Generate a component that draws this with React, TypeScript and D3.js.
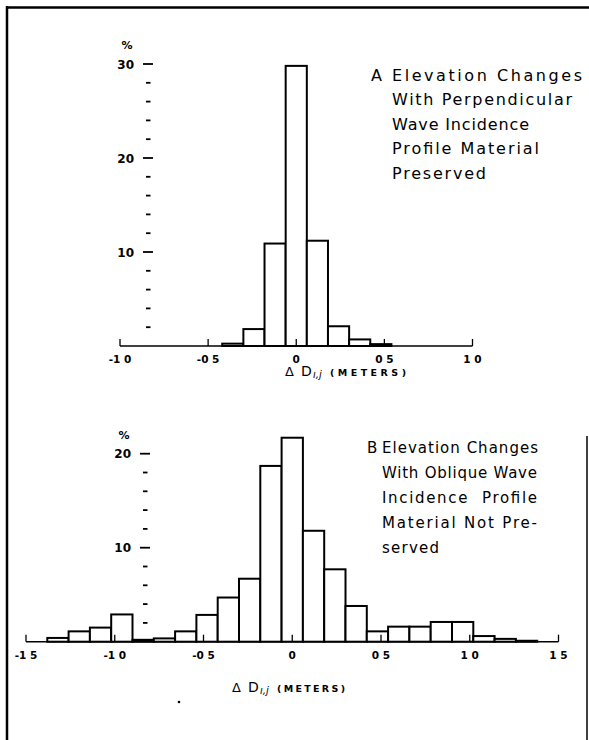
import React from 'react';
import * as d3 from 'd3';

// histogram bins (meters), bin width ~0.12 m
const binWidth = 0.12;
const centersA = [-0.36, -0.24, -0.12, 0, 0.12, 0.24, 0.36, 0.48];
const percentA = [0.25, 1.8, 10.9, 29.8, 11.2, 2.1, 0.7, 0.2];

const centersB = [-1.32, -1.2, -1.08, -0.96, -0.84, -0.72, -0.6, -0.48, -0.36, -0.24, -0.12, 0,
  0.12, 0.24, 0.36, 0.48, 0.6, 0.72, 0.84, 0.96, 1.08, 1.2, 1.32];
const percentB = [0.4, 1.1, 1.5, 2.9, 0.2, 0.35, 1.1, 2.85, 4.7, 6.7, 18.7, 21.7,
  11.8, 7.7, 3.8, 1.1, 1.6, 1.6, 2.1, 2.1, 0.6, 0.3, 0.1];

const xTicksA = [-1, -0.5, 0, 0.5, 1];
const xLabelsA = ['-1 0', '-0 5', '0', '0 5', '1 0'];
const xTicksB = [-1.5, -1, -0.5, 0, 0.5, 1, 1.5];
const xLabelsB = ['-1 5', '-1 0', '-0 5', '0', '0 5', '1 0', '1 5'];

const yMajorA = [10, 20, 30];
const yMinorA = [2, 4, 6, 8, 12, 14, 16, 18, 22, 24, 26, 28];
const yMajorB = [10, 20];
const yMinorB = [2, 4, 6, 8, 12, 14, 16, 18];

const captionA = ['Elevation Changes', 'With Perpendicular', 'Wave Incidence', 'Profile Material', 'Preserved'];
const captionB = ['Elevation Changes', 'With Oblique Wave', 'Incidence  Profile', 'Material Not Pre-', 'served'];

const FONT = '"DejaVu Sans", "Liberation Sans", sans-serif';

type PanelProps = {
  centers: number[];
  values: number[];
  xTicks: number[];
  xLabels: string[];
  yMajor: number[];
  yMinor: number[];
  xDomain: [number, number];
  xRange: [number, number];
  yDomain: [number, number];
  yRange: [number, number];
  axisX: number; // x of the y-axis dashes
  letter: string;
  caption: string[];
  capX: number;
  letterX: number;
  capY: number;
  capStep: number;
  capSize: number;
  capLengths: number[];
  titleX: number;
  titleY: number;
  metersLen: number;
};

function Panel(p: PanelProps) {
  const x = d3.scaleLinear().domain(p.xDomain).range(p.xRange);
  const y = d3.scaleLinear().domain(p.yDomain).range(p.yRange);
  const y0 = y(0);

  return (
    <g>
      {/* y axis: dashes only */}
      {p.yMinor.map(v => (
        <line key={'mi' + v} x1={p.axisX - 2} x2={p.axisX + 2.5} y1={y(v)} y2={y(v)} stroke="#000" strokeWidth={1.8} />
      ))}
      {p.yMajor.map(v => (
        <g key={'ma' + v}>
          <line x1={p.axisX - 5} x2={p.axisX + 5} y1={y(v)} y2={y(v)} stroke="#000" strokeWidth={1.8} />
          <text x={p.axisX - 14} y={y(v) + 4.5} textAnchor="end" fontFamily={FONT} fontWeight="bold" fontSize={12}>{v}</text>
        </g>
      ))}
      <text x={p.axisX - 21} y={y(p.yMajor[p.yMajor.length - 1]) - 15} textAnchor="middle" fontFamily={FONT} fontWeight="bold" fontSize={11}>%</text>

      {/* bars */}
      {p.centers.map((c, i) => (
        <rect key={'b' + i}
          x={x(c - binWidth / 2)}
          y={y(p.values[i])}
          width={x(c + binWidth / 2) - x(c - binWidth / 2)}
          height={y0 - y(p.values[i])}
          fill="#fff" stroke="#000" strokeWidth={2} />
      ))}

      {/* x axis */}
      <line x1={p.xRange[0]} x2={p.xRange[1]} y1={y0} y2={y0} stroke="#000" strokeWidth={1.6} />
      {p.xTicks.map((t, i) => (
        <g key={'xt' + i}>
          <line x1={x(t)} x2={x(t)} y1={y0} y2={y0 - 7} stroke="#000" strokeWidth={1.3} />
          <text x={x(t)} y={y0 + 17} textAnchor="middle" fontFamily={FONT} fontWeight="bold" fontSize={10.5}
            style={{ whiteSpace: 'pre' }}>{p.xLabels[i]}</text>
        </g>
      ))}

      {/* axis title */}
      <text x={p.titleX} y={p.titleY} fontFamily={FONT} fontSize={13}>Δ</text>
      <text x={p.titleX + 16} y={p.titleY} fontFamily={FONT} fontSize={14}>D</text>
      <text x={p.titleX + 28} y={p.titleY + 2} fontFamily={FONT} fontSize={10} fontStyle="italic">ı,j</text>
      <text x={p.titleX + 45} y={p.titleY} fontFamily={FONT} fontWeight="bold" fontSize={9.5}
        textLength={p.metersLen} lengthAdjust="spacing">(METERS)</text>

      {/* caption */}
      <text x={p.letterX} y={p.capY} fontFamily={FONT} fontSize={p.capSize}>{p.letter}</text>
      {p.caption.map((line, i) => (
        <text key={'c' + i} x={p.capX} y={p.capY + i * p.capStep} fontFamily={FONT} fontSize={p.capSize}
          textLength={p.capLengths[i]} lengthAdjust="spacing" style={{ whiteSpace: 'pre' }}>{line}</text>
      ))}
    </g>
  );
}

export default function App() {
  return (
    <svg width={589} height={740} style={{ position: 'absolute', left: 0, top: 0, background: '#fff' }}>
      <rect x={0} y={0} width={589} height={740} fill="#fff" />
      {/* scanned page frame */}
      <line x1={7} x2={589} y1={7.5} y2={7.5} stroke="#000" strokeWidth={2.5} />
      <line x1={7} x2={7} y1={6} y2={740} stroke="#000" strokeWidth={2.5} />
      <line x1={587} x2={587} y1={436} y2={740} stroke="#000" strokeWidth={1.5} />

      <Panel
        centers={centersA} values={percentA}
        xTicks={xTicksA} xLabels={xLabelsA}
        yMajor={yMajorA} yMinor={yMinorA}
        xDomain={[-1, 1]} xRange={[120, 472.5]}
        yDomain={[0, 30]} yRange={[346, 64]}
        axisX={148}
        letter="A" caption={captionA}
        letterX={371} capX={392} capY={80.5} capStep={24.5} capSize={16}
        capLengths={[190, 180, 137, 147, 94]}
        titleX={285} titleY={376} metersLen={76}
      />
      <Panel
        centers={centersB} values={percentB}
        xTicks={xTicksB} xLabels={xLabelsB}
        yMajor={yMajorB} yMinor={yMinorB}
        xDomain={[-1.5, 1.5]} xRange={[26, 558.5]}
        yDomain={[0, 20]} yRange={[641.7, 453.7]}
        axisX={145}
        letter="B" caption={captionB}
        letterX={367} capX={382} capY={452.5} capStep={25} capSize={15}
        capLengths={[156, 155, 155, 155, 57]}
        titleX={232} titleY={692} metersLen={68}
      />
      <circle cx={179} cy={702} r={1.3} fill="#000" />
    </svg>
  );
}
